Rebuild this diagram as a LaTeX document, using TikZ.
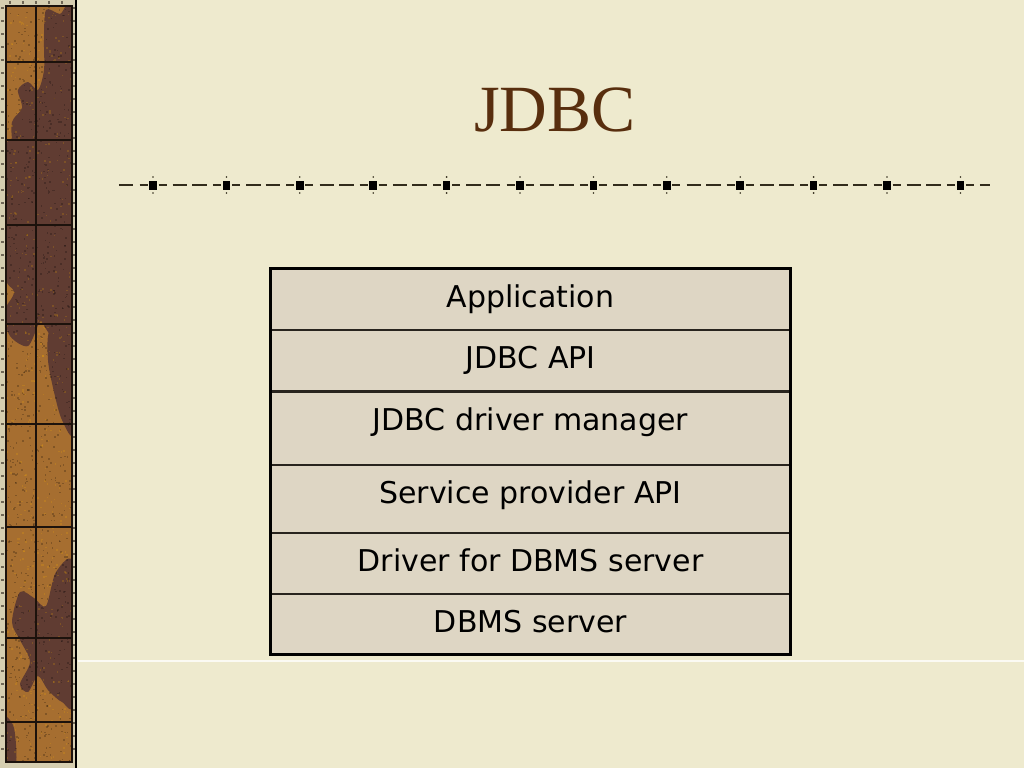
\documentclass[tikz,border=0pt]{standalone}
\usepackage{fontspec}
\newfontfamily\rowfont{DejaVu Sans}
\newfontfamily\titlefont{Liberation Serif}
\definecolor{pagebg}{RGB}{238,234,206}
\definecolor{cellbg}{RGB}{222,214,196}
\definecolor{titlebrown}{RGB}{88,46,14}
\definecolor{rulecol}{RGB}{50,44,28}
\definecolor{woodlight}{RGB}{166,110,48}
\definecolor{wooddark}{RGB}{96,60,50}
\definecolor{woodedge}{RGB}{214,206,176}
\definecolor{gridline}{RGB}{28,18,12}
\definecolor{innerline}{RGB}{40,36,30}
\begin{document}
\begin{tikzpicture}[x=1pt,y=-1pt,
  rowbox/.style={rectangle, draw=innerline, line width=2.1pt, fill=cellbg,
    minimum width=520pt, inner sep=0pt, outer sep=0pt},
  rowtext/.style={font=\rowfont\fontsize{30}{36}\selectfont, anchor=base,
    inner sep=0pt, text=black},
  dashrule/.style={draw=rulecol, line width=2pt},
  woodgrid/.style={draw=gridline, line width=1.3pt},
  stitch/.style={draw=gridline!55!woodedge, line width=1.4pt}]
\useasboundingbox (0,0) rectangle (1024,768);
\fill[pagebg] (0,0) rectangle (1024,768);

% ---- left decorative strip ----
\fill[woodedge] (0,0) rectangle (77,768);
\fill[woodlight] (6,6) rectangle (72,762);
\begin{scope}
  \clip (6,6) rectangle (72,762);
  \fill[wooddark] plot[smooth cycle] coordinates {(46,10) (60,14) (74,10) (74,200) (52,186) (32,162) (14,146) (12,122) (22,108) (18,90) (28,82) (38,90) (44,70) (44,40)};
  \fill[wooddark] plot[smooth cycle] coordinates {(4,150) (30,140) (74,158) (74,332) (60,346) (48,332) (40,322) (28,346) (10,336) (4,312) (14,292) (4,270)};
  \fill[wooddark] plot[smooth cycle] coordinates {(50,330) (74,328) (74,432) (62,420) (54,392) (48,360)};
  \fill[wooddark] plot[smooth cycle] coordinates {(20,592) (34,598) (46,606) (56,572) (74,566) (74,700) (62,702) (48,690) (38,676) (28,692) (20,684) (30,662) (20,640) (12,622)};
  \fill[wooddark] plot[smooth cycle] coordinates {(4,718) (14,728) (16,764) (4,764)};
  \pgfmathsetseed{7}
  \foreach \i in {1,...,900} {
    \pgfmathsetmacro\gx{6+66*rnd}
    \pgfmathsetmacro\gy{6+756*rnd}
    \fill[black, opacity=0.22] (\gx,\gy) rectangle ++(1.6,1.6);
  }
  \foreach \i in {1,...,500} {
    \pgfmathsetmacro\gx{6+66*rnd}
    \pgfmathsetmacro\gy{6+756*rnd}
    \fill[orange!60!yellow, opacity=0.18] (\gx,\gy) rectangle ++(1.6,1.6);
  }
\end{scope}
\draw[woodgrid] (6,6) rectangle (72,762);
\draw[woodgrid] (36,6) -- (36,762);
\foreach \hy in {62,140,225,324,424,527,638,722}
  \draw[woodgrid] (6,\hy) -- (72,\hy);
\foreach \sy in {8,21,...,760} {
  \draw[stitch] (1,\sy) -- (4,\sy);
  \draw[stitch] (73,\sy) -- (74.5,\sy);
}
\foreach \sx in {10,23,...,70}
  \draw[stitch] (\sx,1) -- (\sx,4);
\draw[black, line width=2.5pt] (76,0) -- (76,768);

% faint lower rule
\draw[white!75!pagebg, line width=1.5pt] (78,661) -- (1024,661);

% ---- title ----
\node[font=\titlefont\fontsize{66}{70}\selectfont, text=titlebrown,
  anchor=base, inner sep=0pt] (title) at (555,131) {JDBC};

% ---- decorative rule ----
\draw[dashrule] (118.8,185) -- (133.3,185);
\foreach \k in {0,...,11} {
  \pgfmathsetmacro\c{153+73.4*\k}
  \draw[dashrule] (\c-13.5,185) -- (\c-5.5,185);
  \draw[dashrule] (\c+5.5,185) -- (\c+13.5,185);
  \fill[black] (\c-3.8,180.5) rectangle (\c+3.8,189.5);
  \fill[rulecol] (\c,177) circle (0.9pt);
  \fill[rulecol] (\c,193) circle (0.9pt);
}
\foreach \k in {0,...,10} {
  \pgfmathsetmacro\m{153+73.4*\k+36.7}
  \draw[dashrule] (\m-17,185) -- (\m-2.5,185);
  \draw[dashrule] (\m+2.5,185) -- (\m+17,185);
}
\draw[dashrule] (979.9,185) -- (990.4,185);

% ---- table ----
\node[rowbox, minimum height=61.5pt] (r1) at (530.5,299.25) {};
\node[rowbox, minimum height=61.5pt] (r2) at (530.5,360.75) {};
\node[rowbox, minimum height=73.5pt] (r3) at (530.5,428.25) {};
\node[rowbox, minimum height=68pt]   (r4) at (530.5,499) {};
\node[rowbox, minimum height=61pt]   (r5) at (530.5,563.5) {};
\node[rowbox, minimum height=60.5pt] (r6) at (530.5,624.25) {};
\draw[draw=black, line width=3pt] (r1.north west) rectangle (r6.south east);

\node[rowtext] (t1) at ([yshift=-38.5pt]r1.north) {Application};
\node[rowtext] (t2) at ([yshift=-38.5pt]r2.north) {JDBC API};
\node[rowtext] (t3) at ([yshift=-38.5pt]r3.north) {JDBC driver manager};
\node[rowtext] (t4) at ([yshift=-38.5pt]r4.north) {Service provider API};
\node[rowtext] (t5) at ([yshift=-38.5pt]r5.north) {Driver for DBMS server};
\node[rowtext] (t6) at ([yshift=-38.5pt]r6.north) {DBMS server};
\end{tikzpicture}
\end{document}
